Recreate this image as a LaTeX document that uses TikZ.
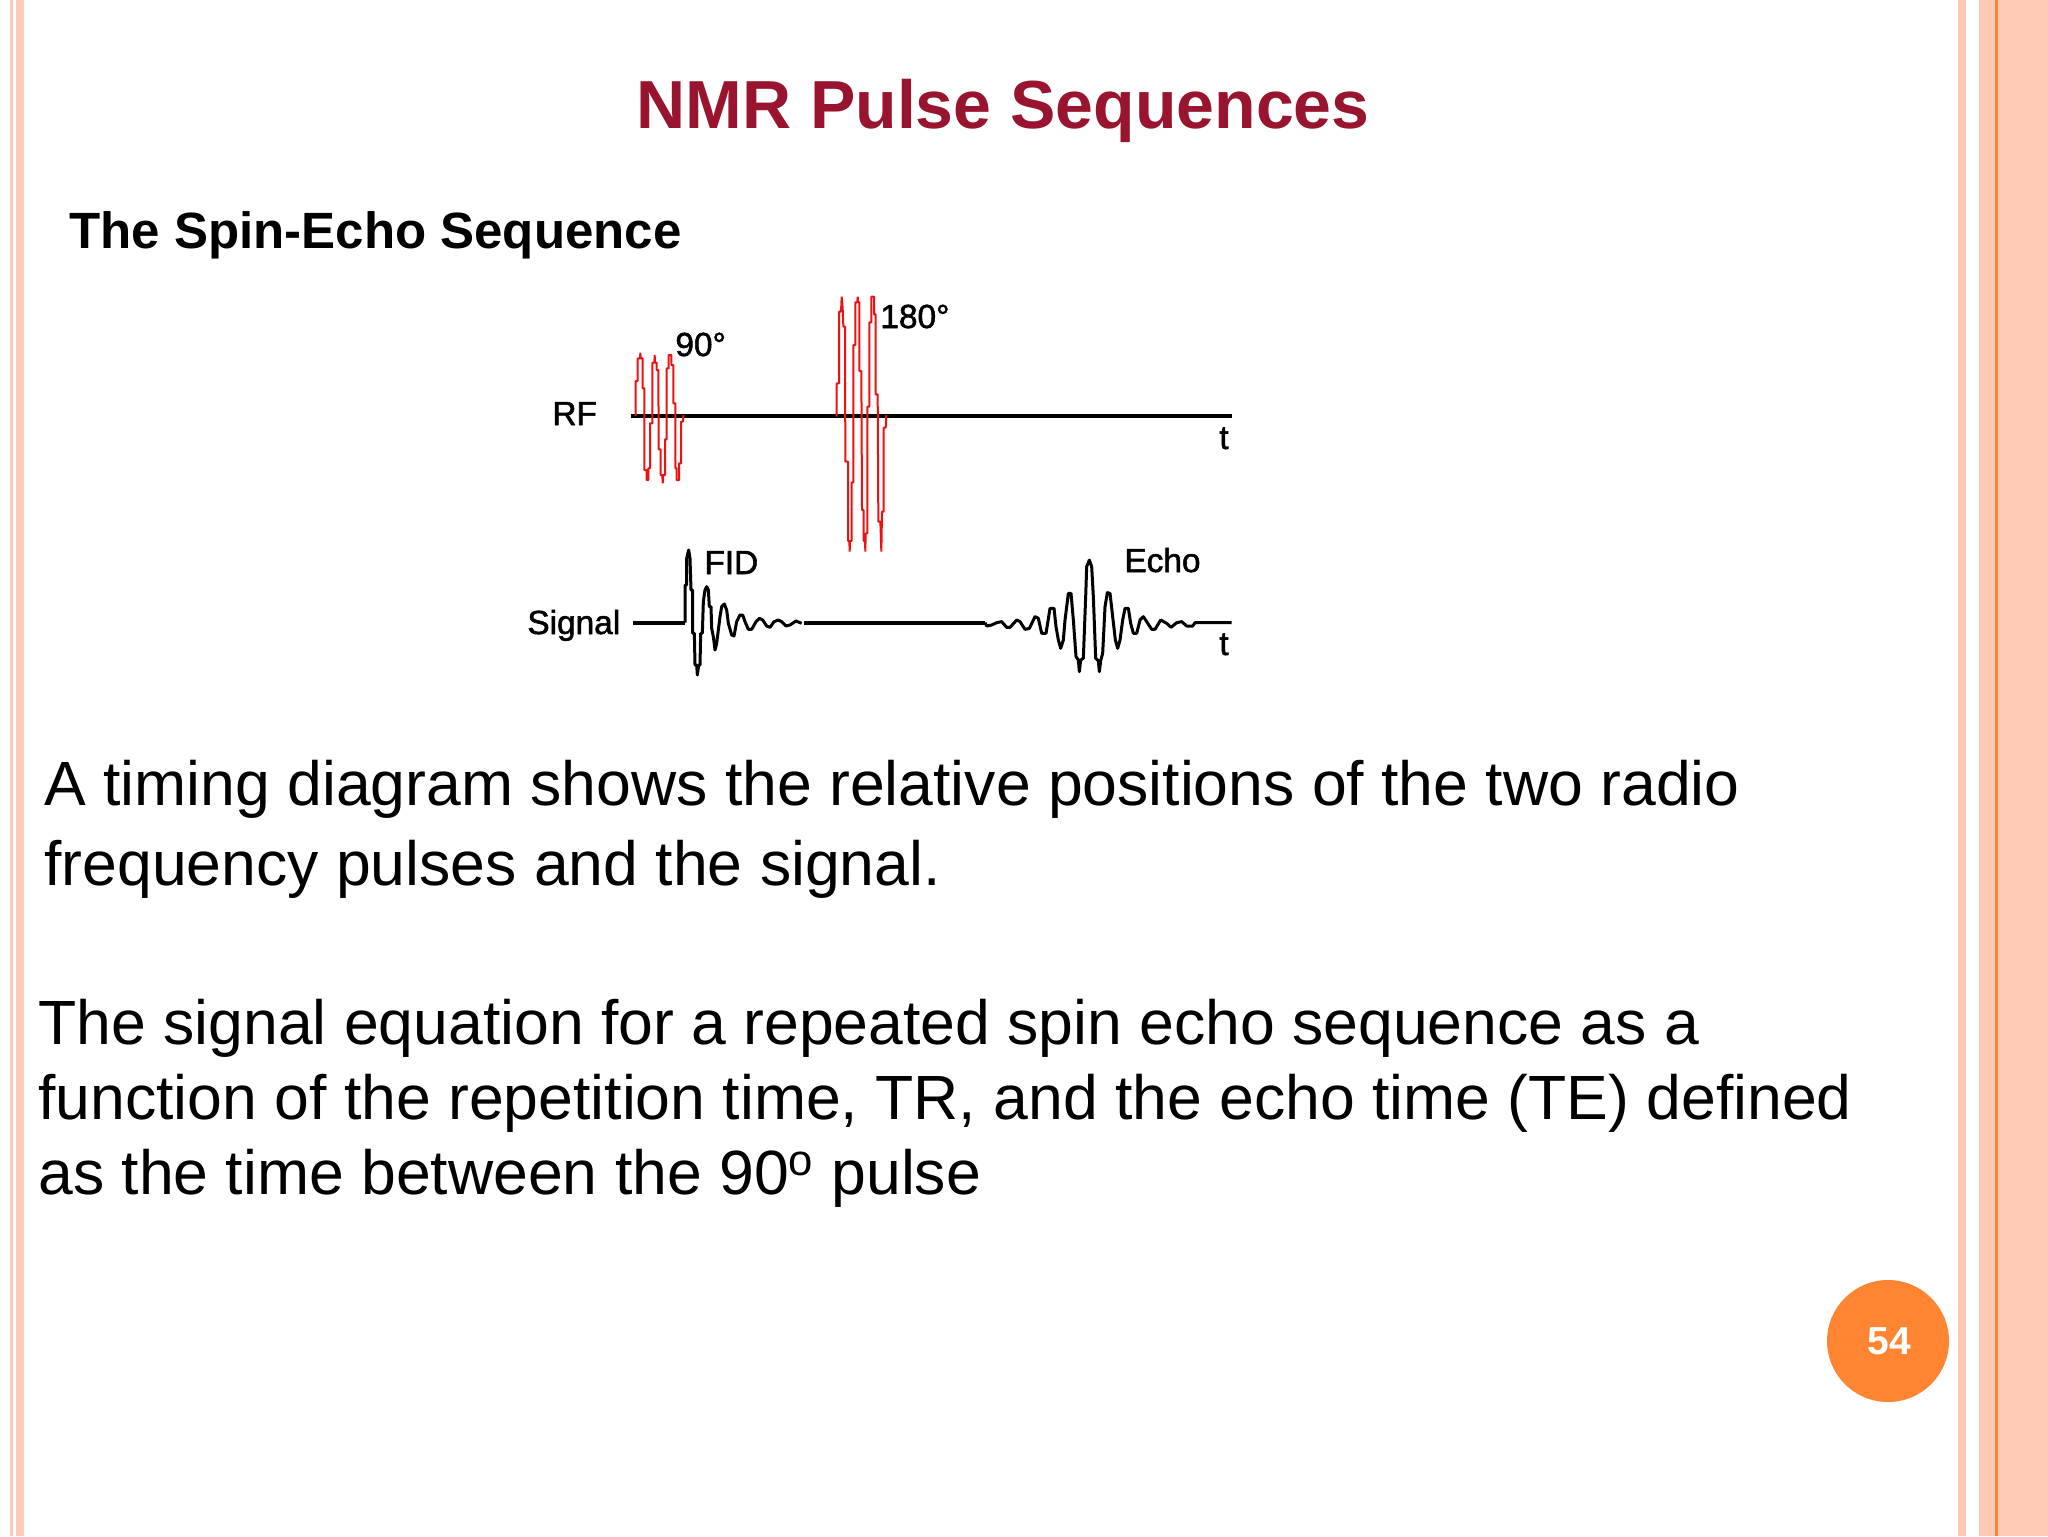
\documentclass[tikz,border=0pt]{standalone}
\usepackage{xcolor}
\usepackage{fontspec}
\setmainfont{Liberation Sans}
\newfontfamily\plotfont[FakeBold=1.6]{Liberation Sans}
\definecolor{peach}{HTML}{FFC9B5}
\definecolor{slideorange}{HTML}{FF8533}
\definecolor{titlered}{HTML}{98142F}
\definecolor{pulsered}{HTML}{F01010}
\tikzset{
    textline/.style={anchor=base west, inner sep=0pt, font=\fontsize{31.25}{36}\selectfont},
    plotlabel/.style={anchor=base west, inner sep=0pt, font=\plotfont\fontsize{16.7}{20}\selectfont},
    bar/.style={fill=peach, draw=none},
    pulse/.style={draw=pulsered, line width=1pt, line join=bevel},
    axisline/.style={draw=black, line width=1.6pt},
    trace/.style={draw=black, line width=1.5pt, line join=round}
}
\begin{document}
\begin{tikzpicture}[x=0.5pt, y=-0.5pt]
    \useasboundingbox (0,0) rectangle (2048,1536);

    % Side bars
    \fill[bar] (10,0) rectangle (13,1536);
    \fill[bar] (16,0) rectangle (24,1536);
    \fill[bar] (1958,0) rectangle (1966,1536);
    \fill[bar] (1979,0) rectangle (2048,1536);
    \fill[slideorange] (1995,0) rectangle (1998,1536);

    % Headings
    \node[anchor=base, inner sep=0pt, font=\fontsize{34}{40}\bfseries\selectfont, text=titlered] (title) at (1003,128) {NMR Pulse Sequences};
    \node[anchor=base west, inner sep=0pt, font=\fontsize{25.5}{30}\bfseries\selectfont] (subtitle) at (69,248) {The Spin-Echo Sequence};

    % RF line
    \coordinate (rfstart) at (631,416);
    \coordinate (rfend) at (1232,416);
    \draw[axisline] (rfstart) -- (rfend);
    \node[plotlabel] (rflabel) at (552,425) {RF};
    \node[plotlabel] (rft) at (1219,449) {t};
    \node[plotlabel] (ninety) at (675,356) {90°};
    \node[plotlabel] (oneeighty) at (880,328) {180°};

    % 90 pulse
    \begin{scope}[shift={(500,280)}, x=0.16667pt, y=-0.16667pt]
        \draw[pulse] (407,408) -- (407,303) -- (413,303) -- (413,235) -- (420,235) -- (421,218) -- (422,235) -- (428,235) -- (428,325) -- (433,325) -- (433,570) -- (440,570) -- (440,600) -- (445,600) -- (445,565) -- (450,565) -- (450,430) -- (457,430) -- (457,248) -- (463,248) -- (464,225) -- (465,248) -- (470,248) -- (470,270) -- (475,270) -- (476,508) -- (482,508) -- (482,585) -- (487,585) -- (488,610) -- (490,585) -- (495,585) -- (495,478) -- (500,478) -- (500,265) -- (506,265) -- (506,225) -- (514,225) -- (514,255) -- (520,255) -- (520,370) -- (526,370) -- (526,565) -- (530,565) -- (530,600) -- (537,600) -- (537,550) -- (543,550) -- (543,425) -- (549,425) -- (550,405);
    \end{scope}

    % 180 pulse
    \begin{scope}[shift={(820,285)}, x=0.16667pt, y=-0.16667pt]
        \draw[pulse] (50,395) -- (50,295) -- (57,295) -- (57,80) -- (63,80) -- (65,35) -- (68,70) -- (70,125) -- (75,125) -- (76,530) -- (84,530) -- (84,768) -- (88,768) -- (89,800) -- (90,768) -- (95,768) -- (95,592) -- (100,592) -- (100,180) -- (106,180) -- (106,52) -- (112,52) -- (113,35) -- (115,52) -- (118,52) -- (118,258) -- (124,258) -- (126,675) -- (131,675) -- (131,768) -- (135,768) -- (136,800) -- (137,745) -- (142,745) -- (142,365) -- (148,365) -- (148,112) -- (154,112) -- (154,35) -- (162,35) -- (162,88) -- (167,88) -- (167,328) -- (173,328) -- (175,710) -- (181,710) -- (184,800) -- (186,680) -- (191,680) -- (191,428) -- (197,428) -- (199,390);
    \end{scope}

    % Signal line
    \coordinate (sigstart) at (633,623);
    \coordinate (fidstart) at (685,623);
    \coordinate (flatstart) at (804,623);
    \coordinate (echostart) at (985,623);
    \draw[axisline] (sigstart) -- (fidstart);
    \draw[axisline] (flatstart) -- (echostart);
    \node[plotlabel] (siglabel) at (527,634) {Signal};
    \node[plotlabel] (sigt) at (1219,655) {t};
    \node[plotlabel] (fid) at (704,574) {FID};
    \node[plotlabel] (echo) at (1124,572) {Echo};

    % FID
    \begin{scope}[shift={(670,540)}, x=0.16667pt, y=-0.16667pt]
        \draw[trace] (45,248) -- (45,135) -- (50,135) -- (50,55) -- (56,30) -- (60,55) -- (63,150) -- (68,150) -- (68,280) -- (73,280) -- (75,375) -- (80,375) -- (82,405) -- (86,375) -- (90,375) -- (92,280) -- (97,280) -- (100,185) -- (105,150) -- (110,140) -- (115,150) -- (118,200) -- (123,200) -- (125,265) -- (130,290) -- (135,330) -- (140,310) -- (145,270) -- (150,230) -- (155,200) -- (163,192) -- (170,210) -- (175,250) -- (185,285) -- (192,288) -- (200,245) -- (210,225) -- (218,225) -- (225,245) -- (235,268) -- (245,268) -- (258,245) -- (268,235) -- (278,240) -- (290,258) -- (300,262) -- (312,245) -- (325,240) -- (335,245) -- (348,258) -- (360,255) -- (378,243) -- (395,250);
    \end{scope}

    % Echo
    \begin{scope}[shift={(970,540)}, x=0.16667pt, y=-0.16667pt]
        \draw[trace] (45,248) -- (50,258) -- (65,255) -- (80,248) -- (95,245) -- (110,262) -- (120,262) -- (140,240) -- (150,245) -- (165,268) -- (178,265) -- (195,230) -- (205,235) -- (215,280) -- (228,280) -- (240,205) -- (252,205) -- (258,260) -- (265,300) -- (272,325) -- (280,300) -- (285,240) -- (295,160) -- (303,160) -- (310,240) -- (318,350) -- (325,360) -- (328,395) -- (332,360) -- (340,355) -- (347,170) -- (350,80) -- (358,60) -- (365,80) -- (370,170) -- (377,355) -- (385,362) -- (388,395) -- (392,362) -- (398,340) -- (405,200) -- (412,158) -- (420,160) -- (428,230) -- (436,300) -- (443,325) -- (450,300) -- (458,240) -- (465,205) -- (475,205) -- (482,250) -- (490,280) -- (500,280) -- (510,240) -- (520,230) -- (530,245) -- (545,268) -- (555,268) -- (572,240) -- (590,250) -- (603,262) -- (620,248) -- (635,245) -- (650,258) -- (668,258) -- (675,248) -- (785,248);
    \end{scope}

    % Body text
    \node[textline] (lineone) at (44,805) {A timing diagram shows the relative positions of the two radio};
    \node[textline] (linetwo) at (44,885) {frequency pulses and the signal.};
    \node[textline] (linethree) at (38,1044) {The signal equation for a repeated spin echo sequence as a};
    \node[textline] (linefour) at (38,1119) {function of the repetition time, TR, and the echo time (TE) defined};
    \node[textline] (linefive) at (38,1194) {as the time between the 90\textsuperscript{o} pulse};

    % Page number
    \node[circle, fill=slideorange, minimum size=61pt, inner sep=0pt, text=white, font=\fontsize{19.5}{23}\bfseries\selectfont] (pagenum) at (1888,1341) {\hspace{1pt}\raisebox{-3pt}{54}};
\end{tikzpicture}
\end{document}
